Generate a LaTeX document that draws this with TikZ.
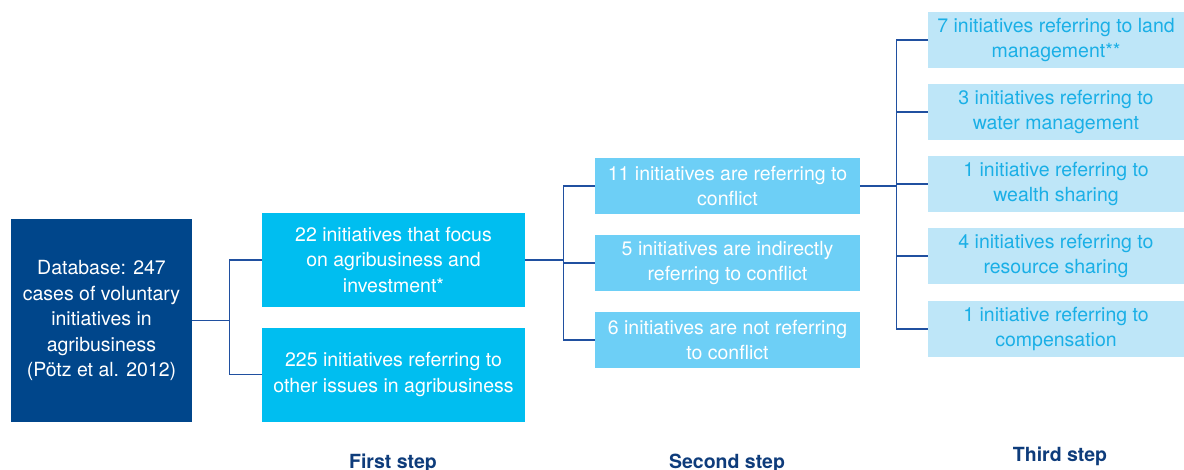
\documentclass[tikz,border=0pt]{standalone}
\usepackage{fontspec}
\setmainfont{TeX Gyre Heros}
\definecolor{dbblue}{HTML}{00468B}
\definecolor{cyanA}{HTML}{00BEF0}
\definecolor{cyanB}{HTML}{6DCFF6}
\definecolor{cyanC}{HTML}{BEE6F8}
\definecolor{cyanT}{HTML}{1AAFE6}
\definecolor{linecol}{HTML}{2050A0}
\definecolor{labcol}{HTML}{0E3C7B}
\tikzset{
  box/.style={inner sep=0pt, align=center, font=\fontsize{19.5}{25.5}\selectfont},
  dbbox/.style={box, fill=dbblue, text=white, minimum width=181pt, minimum height=203pt},
  onebox/.style={box, fill=cyanA, text=white, minimum width=263pt, minimum height=94pt},
  twobox/.style={box, fill=cyanB, text=white, minimum width=265pt, minimum height=56pt},
  threebox/.style={box, fill=cyanC, text=cyanT, minimum width=256pt, minimum height=56pt},
  conn/.style={draw=linecol, line width=1.4pt},
  steplabel/.style={font=\fontsize{19.5}{22}\selectfont\bfseries, text=labcol, anchor=base}
}
\begin{document}
\begin{tikzpicture}[x=1pt,y=-1pt]
\useasboundingbox (0,0) rectangle (1184,469);
\node[dbbox] (db) at (101.5,320.5) {Database: 247\\cases of voluntary\\initiatives in\\agribusiness\\(P\"otz et al. 2012)};
\node[onebox] (a1) at (393.5,260) {22 initiatives that focus\\on agribusiness and\\investment*};
\node[onebox] (a2) at (393.5,374.5) {225 initiatives referring to\\other issues in agribusiness};
\node[twobox] (b1) at (727.5,186) {11 initiatives are referring to\\conflict};
\node[twobox] (b2) at (727.5,263) {5 initiatives are indirectly\\referring to conflict};
\node[twobox] (b3) at (727.5,340) {6 initiatives are not referring\\to conflict};
\node[threebox] (c1) at (1056,40) {7 initiatives referring to land\\management**};
\node[threebox] (c2) at (1056,112) {3 initiatives referring to\\water management};
\node[threebox] (c3) at (1056,184) {1 initiative referring to\\wealth sharing};
\node[threebox] (c4) at (1056,256) {4 initiatives referring to\\resource sharing};
\node[threebox] (c5) at (1056,329) {1 initiative referring to\\compensation};
\coordinate (j1) at ([xshift=37pt]db.east);
\coordinate (j2) at ([xshift=38pt]a1.east);
\coordinate (j3) at ([xshift=36pt]b1.east);
\draw[conn] (db.east) -- (j1);
\draw[conn] (j1) |- (a1.west);
\draw[conn] (j1) |- (a2.west);
\draw[conn] (a1.east) -- (j2);
\draw[conn] (j2) |- (b1.west);
\draw[conn] (j2) |- (b2.west);
\draw[conn] (j2) |- (b3.west);
\draw[conn] (b1.east) -- (j3);
\draw[conn] (j3) |- (c1.west);
\draw[conn] (j3) |- (c2.west);
\draw[conn] (j3) |- (c3.west);
\draw[conn] (j3) |- (c4.west);
\draw[conn] (j3) |- (c5.west);
\node[steplabel] (l1) at (393,468) {First step};
\node[steplabel] (l2) at (727,468) {Second step};
\node[steplabel] (l3) at (1060,461) {Third step};
\end{tikzpicture}
\end{document}
